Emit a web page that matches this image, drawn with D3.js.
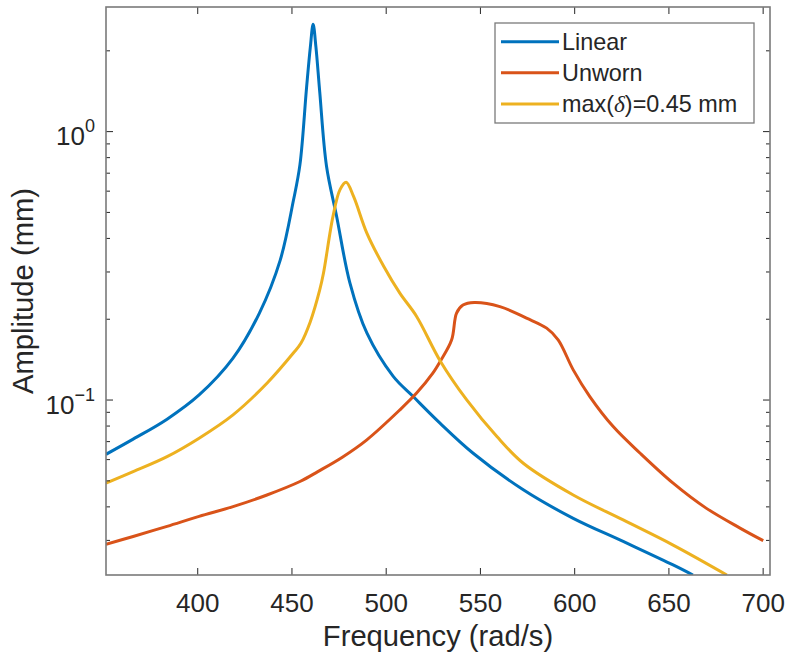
<!DOCTYPE html>
<html>
<head>
<meta charset="utf-8">
<script src="https://cdn.jsdelivr.net/npm/d3@7"></script>
<style>
  body { margin: 0; background: #fff; }
  text { font-family: "Liberation Sans", Arial, sans-serif; fill: #262626; }
</style>
</head>
<body>
<svg class="chart" width="787" height="663"></svg>
<script>
// values (frequency in rad/s, amplitude in mm)
let freqLinear = [351.6, 366, 384, 401, 419, 433, 444, 451, 454.5, 458, 460, 461.5, 463, 465, 468.6, 474, 481, 490, 504, 514.6, 528.8, 546.4, 573, 599.5, 626, 652.5, 663];
let ampLinear  = [0.0625, 0.0712, 0.0845, 0.104, 0.1426, 0.21, 0.33, 0.55, 0.75, 1.45, 2.05, 2.5, 2.05, 1.4, 0.74, 0.48, 0.272, 0.177, 0.122, 0.1026, 0.0817, 0.0631, 0.0461, 0.0361, 0.0296, 0.0242, 0.0222];

let freqUnworn = [351.6, 366, 384, 401, 419, 437, 454.5, 464, 477, 490, 507.5, 516.4, 525, 529, 535, 537.6, 541, 547, 560.6, 574.7, 585.4, 591.5, 599.5, 608.3, 620.7, 635, 652.5, 670, 688, 700.3];
let ampUnworn  = [0.0289, 0.0309, 0.0337, 0.0367, 0.0399, 0.0441, 0.0495, 0.0539, 0.061, 0.0708, 0.0915, 0.1057, 0.1254, 0.139, 0.167, 0.21, 0.225, 0.23, 0.222, 0.201, 0.1845, 0.1669, 0.129, 0.1026, 0.0793, 0.0631, 0.0488, 0.0394, 0.0332, 0.0298];

let freqWorn = [351.6, 366, 384, 401, 419, 437, 451, 455, 460, 465, 467, 472, 475.7, 479, 483, 490, 499, 507.5, 516.4, 529, 543, 559, 573, 599.5, 626, 652.5, 681];
let ampWorn  = [0.0488, 0.0539, 0.0613, 0.0718, 0.0877, 0.115, 0.149, 0.162, 0.195, 0.256, 0.296, 0.48, 0.604, 0.645, 0.57, 0.417, 0.313, 0.249, 0.204, 0.139, 0.0997, 0.0728, 0.0579, 0.0441, 0.0356, 0.0287, 0.0222];

let seriesNames  = ['Linear', 'Unworn', 'max(δ)=0.45 mm'];
let seriesColors = ['#0072BD', '#D95319', '#EDB120'];

let xTicks = [400, 450, 500, 550, 600, 650, 700];
let yMajor = [0.1, 1];
let yMinor = [0.03, 0.04, 0.05, 0.06, 0.07, 0.08, 0.09, 0.2, 0.3, 0.4, 0.5, 0.6, 0.7, 0.8, 0.9, 2];
let xDomain = [351.6, 703.9];
let yDomain = [0.0222, 2.9];

/***** layout *****/
let margin = { left: 106, top: 7, right: 17, bottom: 88 };
let width = 787, height = 663;
let innerW = width - margin.left - margin.right;
let innerH = height - margin.top - margin.bottom;

let svg = d3.select('svg.chart');
let g = svg.append('g').attr('transform', `translate(${margin.left},${margin.top})`);

let x = d3.scaleLinear().domain(xDomain).range([0, innerW]);
let y = d3.scaleLog().domain(yDomain).range([innerH, 0]);

g.append('clipPath').attr('id', 'plotclip')
  .append('rect').attr('width', innerW).attr('height', innerH);

/***** lines *****/
let series = [
  d3.zip(freqLinear, ampLinear),
  d3.zip(freqUnworn, ampUnworn),
  d3.zip(freqWorn, ampWorn)
];
let line = d3.line()
  .x(d => x(d[0]))
  .y(d => y(d[1]))
  .curve(d3.curveCatmullRom.alpha(0.5));

g.append('g').attr('clip-path', 'url(#plotclip)')
  .selectAll('path')
  .data(series)
  .join('path')
    .attr('d', line)
    .attr('fill', 'none')
    .attr('stroke', (d, i) => seriesColors[i])
    .attr('stroke-width', 3)
    .attr('stroke-linejoin', 'round');

/***** axes (ticks inward, mirrored) *****/
function styleAxis(sel) {
  sel.select('.domain').remove();
  sel.selectAll('.tick line').attr('stroke', '#262626');
}

let xb = g.append('g').attr('transform', `translate(0,${innerH})`)
  .call(d3.axisBottom(x).tickValues(xTicks).tickSize(-7).tickPadding(0))
  .call(styleAxis);
xb.selectAll('.tick text')
  .attr('y', 37).attr('dy', null)
  .style('font-size', '26px');

g.append('g')
  .call(d3.axisTop(x).tickValues(xTicks).tickSize(-7).tickFormat(''))
  .call(styleAxis);

// y major + minor
g.append('g')
  .call(d3.axisLeft(y).tickValues(yMajor).tickSize(-7).tickFormat(''))
  .call(styleAxis);
g.append('g')
  .call(d3.axisLeft(y).tickValues(yMinor).tickSize(-4).tickFormat(''))
  .call(styleAxis);
g.append('g').attr('transform', `translate(${innerW},0)`)
  .call(d3.axisRight(y).tickValues(yMajor).tickSize(-7).tickFormat(''))
  .call(styleAxis);
g.append('g').attr('transform', `translate(${innerW},0)`)
  .call(d3.axisRight(y).tickValues(yMinor).tickSize(-4).tickFormat(''))
  .call(styleAxis);

// 10^n labels
let yLab = g.append('g').selectAll('text')
  .data(yMajor)
  .join('text')
    .attr('x', -11)
    .attr('y', d => y(d) + 14)
    .attr('text-anchor', 'end')
    .style('font-size', '26px');
yLab.append('tspan').text('10');
yLab.append('tspan')
  .attr('dy', -13)
  .style('font-size', '18px')
  .text(d => String(Math.round(Math.log10(d))).replace('-', '\u2212'));

// box
g.append('rect')
  .attr('width', innerW).attr('height', innerH)
  .attr('fill', 'none')
  .attr('stroke', '#7a7a7a')
  .attr('stroke-width', 1.6);

/***** axis titles *****/
svg.append('text')
  .attr('x', margin.left + innerW / 2)
  .attr('y', 646)
  .attr('text-anchor', 'middle')
  .style('font-size', '29.2px')
  .text('Frequency (rad/s)');

svg.append('text')
  .attr('transform', `translate(33,${margin.top + innerH / 2}) rotate(-90)`)
  .attr('text-anchor', 'middle')
  .style('font-size', '29.2px')
  .text('Amplitude (mm)');

/***** legend *****/
let legend = svg.append('g').attr('transform', 'translate(495,23)');
legend.append('rect')
  .attr('width', 259).attr('height', 100)
  .attr('fill', '#fff')
  .attr('stroke', '#7a7a7a')
  .attr('stroke-width', 1.3);

let rows = legend.selectAll('g.row')
  .data(seriesNames)
  .join('g')
    .attr('class', 'row')
    .attr('transform', (d, i) => `translate(0,${18.7 + i * 31.1})`);

rows.append('line')
  .attr('x1', 6).attr('x2', 64)
  .attr('stroke', (d, i) => seriesColors[i])
  .attr('stroke-width', 3);

let lt = rows.append('text')
  .attr('x', 67)
  .attr('dy', 8.5)
  .style('font-size', '23.4px');
lt.each(function(d) {
  let t = d3.select(this);
  if (d.indexOf('δ') < 0) { t.text(d); return; }
  let parts = d.split('δ');
  t.append('tspan').text(parts[0]);
  t.append('tspan')
    .style('font-family', '"Liberation Serif", "DejaVu Serif", serif')
    .style('font-style', 'italic')
    .text('δ');
  t.append('tspan').text(parts[1]);
});
</script>
</body>
</html>
